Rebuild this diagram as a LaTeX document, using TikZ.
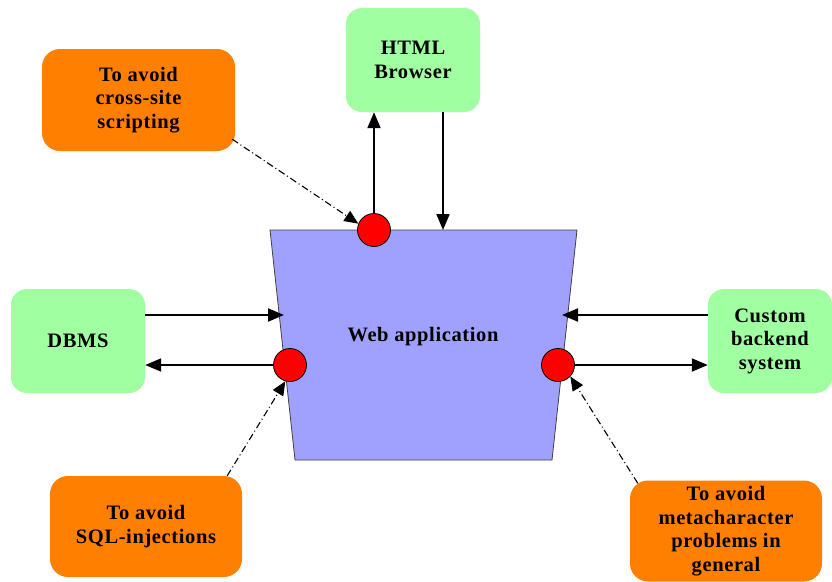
\documentclass[tikz,border=0pt]{standalone}
\usepackage{fontspec}
\setmainfont{Liberation Serif}[LetterSpace=3]
\usetikzlibrary{arrows.meta}
\definecolor{boxgreen}{RGB}{160,255,160}
\definecolor{boxorange}{RGB}{255,128,0}
\definecolor{appblue}{RGB}{160,160,255}
\tikzset{
  lbl/.style={font=\bfseries\fontsize{20.5}{23.5}\selectfont, align=center, inner sep=0pt},
  sysbox/.style={lbl, fill=boxgreen, rounded corners=16pt},
  notebox/.style={lbl, fill=boxorange, rounded corners=18pt},
  port/.style={circle, fill=red, draw=black, line width=0.8pt, minimum size=33pt, inner sep=0pt},
  flow/.style={line width=2pt, -{Triangle[length=16pt, width=13pt]}},
  guard/.style={line width=1.1pt, dash pattern=on 7pt off 3pt on 1pt off 3pt, -{Triangle[length=14pt, width=12pt]}}
}
\begin{document}
\begin{tikzpicture}[x=1pt, y=-1pt]
\useasboundingbox (0,0) rectangle (832,581);
% web application
\draw[fill=appblue, draw=black!75, line width=0.8pt] (270,230) -- (577,230) -- (552,460) -- (295,460) -- cycle;
\node[lbl] (app) at (423,337) {Web application};
\coordinate (appin) at (443,230);
\coordinate (appl) at (284,315);
\coordinate (appr) at (562,315);
% boxes
\node[sysbox, minimum width=134pt, minimum height=104pt] (br) at (413,60) {HTML\\Browser};
\node[sysbox, minimum width=134pt, minimum height=104pt] (db) at (78,341) {DBMS};
\node[sysbox, minimum width=124pt, minimum height=104pt] (cu) at (770,341) {Custom\\backend\\system};
\node[notebox, minimum width=193pt, minimum height=102pt] (xss) at (138.5,100) {To avoid\\cross-site\\scripting};
\node[notebox, minimum width=192pt, minimum height=101pt] (sql) at (146,526.5) {To avoid\\SQL-injections};
\node[notebox, minimum width=192pt, minimum height=101pt] (meta) at (726,531) {To avoid\\metacharacter\\problems in\\general};
% ports
\node[port] (c1) at (374,230) {};
\node[port] (c2) at (290,365) {};
\node[port] (c3) at (558,365) {};
% flows
\draw[flow] (c1.north) -- (br.south -| c1.north);
\draw[flow] ([xshift=30pt]br.south) -- (appin);
\draw[flow] ([yshift=26pt]db.east) -- (appl);
\draw[flow] (c2.west) -- (db.east |- c2.west);
\draw[flow] ([yshift=26pt]cu.west) -- (appr);
\draw[flow] (c3.east) -- (cu.west |- c3.east);
% guards
\draw[guard] ([shift={(-3pt,12pt)}]xss.south east) -- (c1.158);
\draw[guard] ([xshift=-15pt]sql.north east) -- (c2.-106);
\draw[guard] ([shift={(8pt,-3pt)}]meta.north west) -- (c3.-43);
\end{tikzpicture}
\end{document}
